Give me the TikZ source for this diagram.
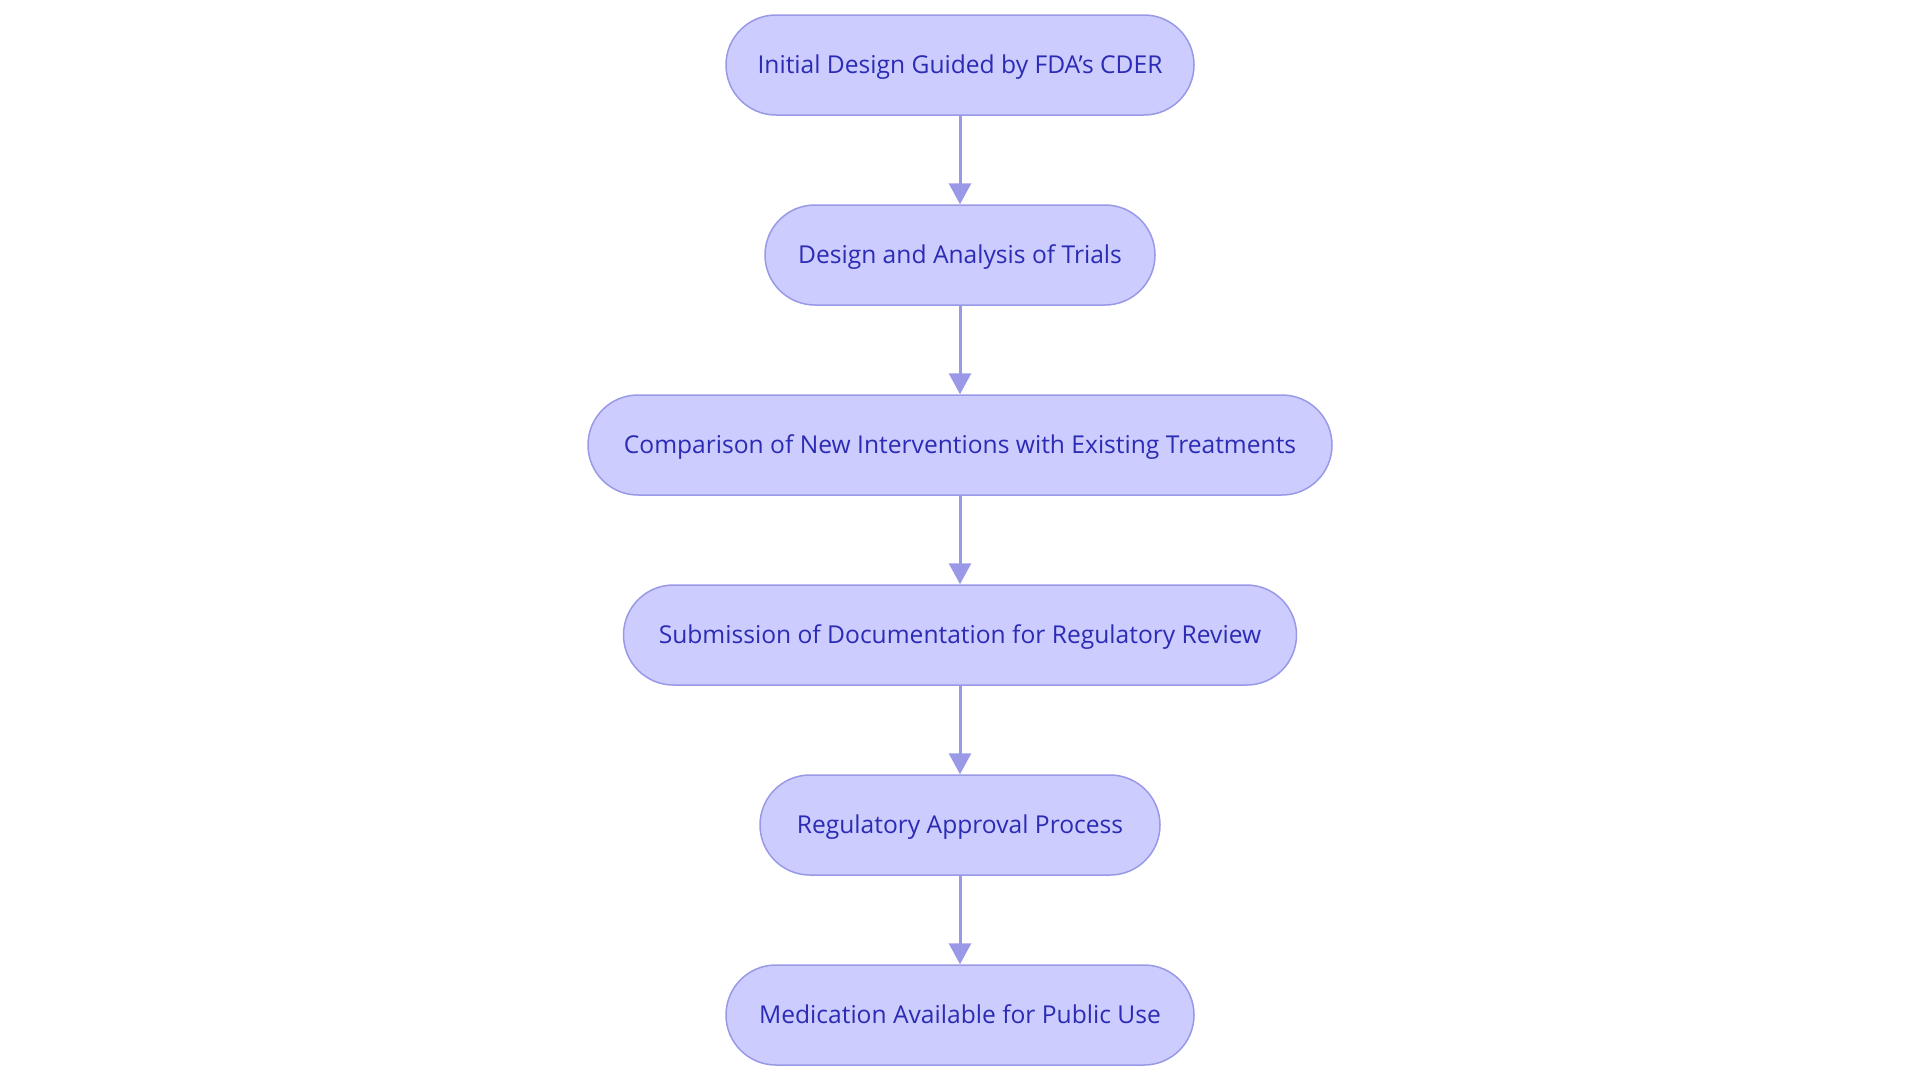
\documentclass[tikz,border=0pt]{standalone}
\usepackage{fontspec}
\setmainfont{Open Sans}
\usetikzlibrary{arrows.meta}
\definecolor{boxfill}{HTML}{CCCCFF}
\definecolor{boxline}{HTML}{9999E8}
\definecolor{boxtext}{HTML}{2B2BB3}
\tikzset{
  stepbox/.style={rectangle, rounded corners=50pt, draw=boxline, line width=1.5pt, fill=boxfill,
    text=boxtext, minimum height=100pt, text height=17.5pt, text depth=0pt,
    font=\fontsize{24.6}{28}\selectfont},
  flowarrow/.style={draw=boxline, line width=3pt, -{Triangle[length=21pt,width=22pt]}}
}
\begin{document}
\begin{tikzpicture}[x=1pt,y=1pt]
\useasboundingbox (0,0) rectangle (1920,-1080);
\node[stepbox, minimum width=468pt] (n1) at (960,-65) {Initial Design Guided by FDA's CDER};
\node[stepbox, minimum width=390pt] (n2) at (960,-255) {Design and Analysis of Trials};
\node[stepbox, minimum width=744pt] (n3) at (960,-445) {Comparison of New Interventions with Existing Treatments};
\node[stepbox, minimum width=673pt] (n4) at (960,-635) {Submission of Documentation for Regulatory Review};
\node[stepbox, minimum width=400pt] (n5) at (960,-825) {Regulatory Approval Process};
\node[stepbox, minimum width=468pt] (n6) at (960,-1015) {Medication Available for Public Use};
\draw[flowarrow] (n1) -- (n2);
\draw[flowarrow] (n2) -- (n3);
\draw[flowarrow] (n3) -- (n4);
\draw[flowarrow] (n4) -- (n5);
\draw[flowarrow] (n5) -- (n6);
\end{tikzpicture}
\end{document}
